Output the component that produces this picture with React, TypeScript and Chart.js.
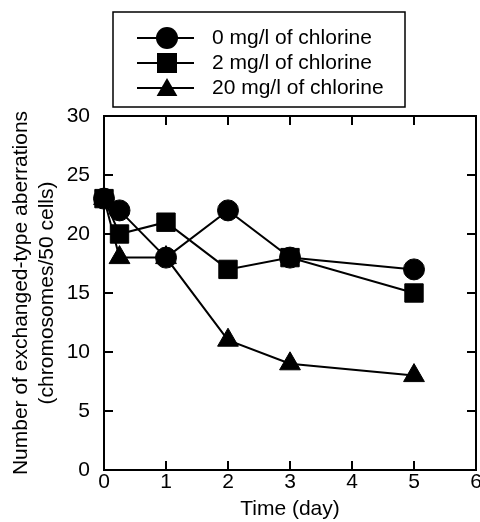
import React, { useEffect, useRef } from 'react';
import { Chart, registerables } from 'chart.js';

Chart.register(...registerables);

const days = [0, 0.25, 1, 2, 3, 5];
const chlorine0 = [23, 22, 18, 22, 18, 17];
const chlorine2 = [23, 20, 21, 17, 18, 15];
const chlorine20 = [23, 18, 18, 11, 9, 8];
const seriesLabels = ['0 mg/l of chlorine', '2 mg/l of chlorine', '20 mg/l of chlorine'];
const pointStyles = ['circle', 'rect', 'triangle'];
const xTitle = 'Time (day)';
const yTitle = ['Number of exchanged-type aberrations', '(chromosomes/50 cells)'];

const FONT = "'Liberation Sans', Arial, Helvetica, sans-serif";

function drawMarker(ctx: CanvasRenderingContext2D, style: string, x: number, y: number) {
  ctx.beginPath();
  if (style === 'circle') {
    ctx.arc(x, y, 11, 0, Math.PI * 2);
  } else if (style === 'rect') {
    ctx.rect(x - 10, y - 10, 20, 20);
  } else {
    const r = 12;
    for (let i = 0; i < 3; i++) {
      const a = (i * 2 * Math.PI) / 3;
      const px = x + Math.sin(a) * r;
      const py = y + 2 - Math.cos(a) * r;
      if (i === 0) ctx.moveTo(px, py);
      else ctx.lineTo(px, py);
    }
    ctx.closePath();
  }
  ctx.fill();
}

const framePlugin = {
  id: 'frame',
  beforeDatasetsDraw(chart: any) {
    const { ctx, chartArea } = chart;
    const { left, right, top, bottom } = chartArea;
    ctx.save();
    ctx.strokeStyle = '#000';
    ctx.lineWidth = 2;
    ctx.strokeRect(left, top, right - left, bottom - top);
    const xs = chart.scales.x;
    const ys = chart.scales.y;
    const tl = 9;
    ctx.beginPath();
    xs.ticks.forEach((t: any) => {
      const px = xs.getPixelForValue(t.value);
      ctx.moveTo(px, bottom);
      ctx.lineTo(px, bottom - tl);
      ctx.moveTo(px, top);
      ctx.lineTo(px, top + tl);
    });
    ys.ticks.forEach((t: any) => {
      const py = ys.getPixelForValue(t.value);
      ctx.moveTo(left, py);
      ctx.lineTo(left + tl, py);
      ctx.moveTo(right, py);
      ctx.lineTo(right - tl, py);
    });
    ctx.stroke();
    ctx.restore();
  },
};

const legendPlugin = {
  id: 'boxLegend',
  afterDraw(chart: any) {
    const { ctx } = chart;
    ctx.save();
    ctx.strokeStyle = '#000';
    ctx.fillStyle = '#000';
    ctx.lineWidth = 1.5;
    ctx.strokeRect(113, 12, 292, 95);
    const rows = [38, 63, 88];
    seriesLabels.forEach((label, i) => {
      const y = rows[i];
      ctx.beginPath();
      ctx.lineWidth = 2;
      ctx.moveTo(137, y);
      ctx.lineTo(194, y);
      ctx.stroke();
      drawMarker(ctx, pointStyles[i], 167, y);
      ctx.font = `21px ${FONT}`;
      ctx.textBaseline = 'middle';
      ctx.textAlign = 'left';
      ctx.fillText(label, 212, y);
    });
    ctx.restore();
  },
};

export default function App() {
  const ref = useRef<HTMLCanvasElement | null>(null);

  useEffect(() => {
    if (!ref.current) return;
    const mk = (data: number[]) => days.map((d, i) => ({ x: d, y: data[i] }));
    const common = {
      borderColor: '#000',
      borderWidth: 2,
      pointBackgroundColor: '#000',
      pointBorderColor: '#000',
      pointBorderWidth: 1,
      tension: 0,
      clip: false as any,
      showLine: true,
    };
    const chart = new Chart(ref.current, {
      type: 'scatter',
      data: {
        datasets: [
          { ...common, label: seriesLabels[0], data: mk(chlorine0), pointStyle: 'circle', pointRadius: 10.5 },
          { ...common, label: seriesLabels[1], data: mk(chlorine2), pointStyle: 'rect', pointRadius: 13 },
          { ...common, label: seriesLabels[2], data: mk(chlorine20), pointStyle: 'triangle', pointRadius: 12 },
        ],
      },
      options: {
        animation: false,
        responsive: false,
        devicePixelRatio: 1,
        layout: { padding: { top: 116, right: 14, bottom: 0, left: 0 } },
        plugins: { legend: { display: false }, tooltip: { enabled: false } },
        scales: {
          x: {
            type: 'linear',
            min: 0,
            max: 6,
            afterFit: (s: any) => { s.height = 52; },
            grid: { display: false, drawTicks: false },
            border: { display: false },
            ticks: { stepSize: 1, padding: 0, color: '#000', font: { family: FONT, size: 21 } },
            title: { display: true, text: xTitle, color: '#000', padding: { top: 0, bottom: 0 }, font: { family: FONT, size: 21 } },
          },
          y: {
            type: 'linear',
            min: 0,
            max: 30,
            afterFit: (s: any) => { s.width = 104; },
            grid: { display: false, drawTicks: false },
            border: { display: false },
            ticks: { stepSize: 5, padding: 14, color: '#000', font: { family: FONT, size: 21 } },
            title: { display: true, text: yTitle, color: '#000', padding: { top: 9, bottom: 0 }, font: { family: FONT, size: 21 } },
          },
        },
      },
      plugins: [framePlugin, legendPlugin],
    });
    return () => chart.destroy();
  }, []);

  return (
    <div style={{ position: 'fixed', left: 0, top: 0, width: 480, height: 522, overflow: 'hidden', background: '#fff' }}>
      <canvas ref={ref} width={490} height={522} style={{ display: 'block' }} />
    </div>
  );
}
